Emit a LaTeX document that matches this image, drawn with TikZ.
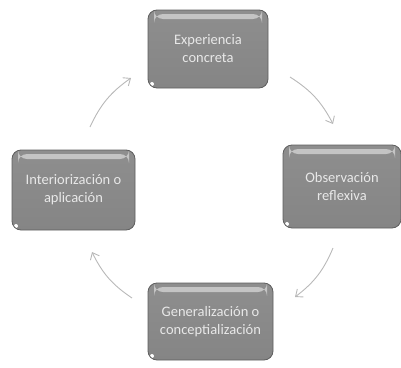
\documentclass[tikz,border=0pt]{standalone}
\usepackage{fontspec}
\setmainfont{Carlito}
\usetikzlibrary{arrows.meta}
\definecolor{boxtop}{HTML}{8E8E8E}
\definecolor{boxbot}{HTML}{858585}
\definecolor{boxline}{HTML}{5E5E5E}
\definecolor{bandgray}{HTML}{C4C4C4}
\definecolor{txtgray}{HTML}{E8E8E8}
\definecolor{arrgray}{HTML}{B8B8B8}
\tikzset{
  stagebox/.style={rectangle, rounded corners=9pt, draw=boxline, line width=0.8pt,
    top color=boxtop, bottom color=boxbot, text=txtgray, align=center,
    font=\fontsize{14.5}{18}\selectfont, inner sep=2pt,
    path picture={
      \fill[bandgray] ([xshift=6pt,yshift=-4pt]path picture bounding box.north west)
        rectangle ([xshift=-6pt,yshift=-9pt]path picture bounding box.north east);
      \fill[white] ([xshift=4pt,yshift=4pt]path picture bounding box.south west)
        circle (2pt);
    }},
  cyclearrow/.style={draw=arrgray, line width=0.9pt, -{Straight Barb[length=6pt,width=10pt]}}
}
\begin{document}
\begin{tikzpicture}[x=1pt,y=-1pt]
\useasboundingbox (0,0) rectangle (401,367);
\node[stagebox, minimum width=120pt, minimum height=78pt] (top) at (208,49) {Experiencia\\concreta};
\node[stagebox, minimum width=118pt, minimum height=83pt] (right) at (342,186.5) {Observación\\reflexiva};
\node[stagebox, minimum width=123pt, minimum height=80pt] (left) at (73.5,190) {Interiorización o\\aplicación};
\node[stagebox, minimum width=125pt, minimum height=77pt] (bottom) at (210.5,321.5) {Generalización o\\conceptialización};
\coordinate (a1s) at (90,127); \coordinate (a1e) at (131,78);
\coordinate (a2s) at (290,77); \coordinate (a2e) at (333,124);
\coordinate (a3s) at (333,248); \coordinate (a3e) at (295,297);
\coordinate (a4s) at (132,298); \coordinate (a4e) at (92,252);
\draw[cyclearrow] (a1s) to[bend left=15] (a1e);
\draw[cyclearrow] (a2s) to[bend left=15] (a2e);
\draw[cyclearrow] (a3s) to[bend left=15] (a3e);
\draw[cyclearrow] (a4s) to[bend left=15] (a4e);
\end{tikzpicture}
\end{document}
